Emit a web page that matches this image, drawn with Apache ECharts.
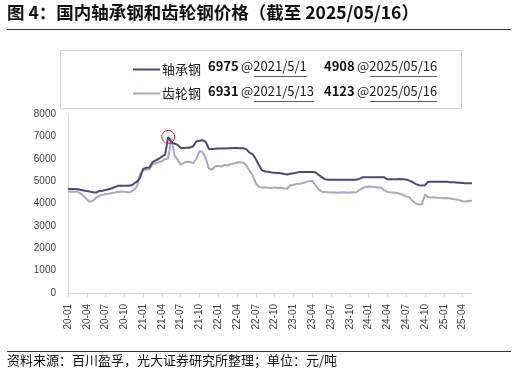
<!DOCTYPE html>
<html>
<head>
<meta charset="utf-8">
<script src="https://cdn.jsdelivr.net/npm/echarts@6/dist/echarts.min.js"></script>
<style>
html,body{margin:0;padding:0;background:#fff;}
#c{width:516px;height:372px;}
</style>
</head>
<body>
<div id="c"></div>
<script>
// semi-monthly dates from 2020-01-01 to 2025-05-16
const startYear = 2020, endYear = 2025, endMonth = 5;
const categories = [];
for (let y = startYear; y <= endYear; y++) {
  for (let m = 1; m <= 12; m++) {
    if (y === endYear && m > endMonth) break;
    const mm = (m < 10 ? '0' : '') + m;
    categories.push(y + '-' + mm + '-01');
    categories.push(y + '-' + mm + '-16');
  }
}
const tickMonths = ['01', '04', '07', '10'];

const seriesNames = ['轴承钢', '齿轮钢'];

const bearingSteel = [
  4650,4650,4650,4640,4610,4580,4560,4530,4500,4490,
  4560,4570,4600,4640,4680,4740,4790,4790,4790,4790,
  4800,4880,4980,5150,5550,5600,5610,5850,5930,6000,
  6100,6180,6975,6720,6680,6620,6480,6480,6490,6500,
  6560,6780,6800,6830,6750,6440,6440,6450,6460,6460,
  6460,6470,6470,6480,6480,6470,6470,6420,6270,6200,
  5980,5700,5480,5430,5420,5380,5370,5360,5350,5320,
  5300,5330,5350,5380,5410,5410,5410,5410,5410,5400,
  5280,5180,5090,5060,5060,5060,5060,5060,5060,5060,
  5060,5060,5060,5100,5170,5170,5170,5170,5170,5170,
  5170,5170,5080,5080,5080,5080,5090,5080,5070,5020,
  4960,4880,4820,4800,4820,4970,4970,4970,4970,4970,
  4970,4970,4950,4950,4940,4930,4920,4910,4910,4908
];

const gearSteel = [
  4530,4540,4530,4520,4460,4330,4190,4070,4130,4260,
  4340,4390,4420,4440,4470,4490,4520,4540,4530,4500,
  4520,4600,4760,5300,5500,5520,5530,5760,5800,5860,
  5890,5980,6020,6931,6150,5950,5730,5820,5870,5860,
  5800,6000,6350,6300,6000,5560,5520,5650,5690,5650,
  5720,5700,5760,5790,5830,5840,5820,5700,5450,5250,
  4900,4740,4720,4710,4700,4690,4720,4690,4710,4680,
  4660,4820,4840,4870,4880,4920,4960,5000,5020,4820,
  4650,4520,4510,4500,4490,4500,4480,4490,4500,4480,
  4490,4500,4490,4600,4680,4740,4760,4750,4740,4720,
  4700,4600,4520,4500,4490,4470,4440,4380,4320,4280,
  4120,4000,3970,3960,4400,4280,4270,4280,4260,4250,
  4240,4250,4220,4200,4180,4150,4100,4090,4110,4123
];

const bearingPeak = { value: 6975, date: '2021/5/1', idx: 32 };
const gearPeak = { value: 6931, date: '2021/5/13' };
const bearingLast = { value: 4908, date: '2025/05/16' };
const gearLast = { value: 4123, date: '2025/05/16' };

const DARK = '#4b4a76';
const LIGHT = '#a9a8c6';
const FONT = '"Noto Sans CJK SC", "Noto Sans", sans-serif';
const NUMFONT = '"Liberation Sans", "Noto Sans", sans-serif';

function isTick(i, v) {
  return v.slice(8) === '01' && tickMonths.indexOf(v.slice(5, 7)) >= 0;
}

function annot(x, y, num, date, underlineW) {
  return [
    { type: 'text', left: x, top: y, style: { text: String(num), font: 'bold 13px ' + FONT, fill: '#111' } },
    { type: 'text', left: x + 33, top: y, style: { text: '@' + date, font: '13px ' + FONT, fill: '#222' } },
    { type: 'line', shape: { x1: x + 46, y1: y + 16.5, x2: x + 46 + underlineW, y2: y + 16.5 }, style: { stroke: '#333', lineWidth: 0.8 } }
  ];
}

const chart = echarts.init(document.getElementById('c'), null, { renderer: 'canvas' });
const graphics = [
  { type: 'text', left: 7, top: 4, style: { text: '图 4：国内轴承钢和齿轮钢价格（截至 2025/05/16）', font: 'bold 17.5px ' + FONT, fill: '#111' } },
  { type: 'line', shape: { x1: 7, y1: 29.5, x2: 511, y2: 29.5 }, style: { stroke: '#333', lineWidth: 1 } },
  { type: 'rect', shape: { x: 60.5, y: 50.5, width: 401, height: 58 }, style: { fill: 'none', stroke: '#d4d4d4', lineWidth: 1 } },
  { type: 'line', shape: { x1: 7, y1: 351.5, x2: 511, y2: 351.5 }, style: { stroke: '#333', lineWidth: 1 } },
  { type: 'text', left: 7, top: 354, style: { text: '资料来源：百川盈孚，光大证券研究所整理；单位：元/吨', font: '13px ' + FONT, fill: '#111' } }
];
graphics.push(...annot(208, 60, bearingPeak.value, bearingPeak.date, 53));
graphics.push(...annot(324, 60, bearingLast.value, bearingLast.date, 67));
graphics.push(...annot(208, 85, gearPeak.value, gearPeak.date, 60));
graphics.push(...annot(324, 85, gearLast.value, gearLast.date, 67));

chart.setOption({
  animation: false,
  backgroundColor: '#fff',
  textStyle: { fontFamily: FONT },
  graphic: graphics,
  legend: {
    orient: 'vertical',
    left: 128,
    top: 56,
    itemWidth: 27,
    itemHeight: 2,
    itemGap: 7,
    icon: 'rect',
    textStyle: { fontSize: 13, color: '#222', fontFamily: FONT, lineHeight: 17, padding: [0, 0, 0, -3] },
    data: seriesNames
  },
  grid: { left: 68, right: 44, top: 114, bottom: 79, containLabel: false },
  xAxis: {
    type: 'category',
    data: categories,
    boundaryGap: false,
    axisLine: { lineStyle: { color: '#d9d9d9', width: 1 } },
    axisTick: { show: true, interval: isTick, length: 4, lineStyle: { color: '#d9d9d9' } },
    axisLabel: {
      interval: isTick,
      rotate: 90,
      margin: 11,
      fontSize: 10,
      color: '#404040',
      fontFamily: NUMFONT,
      formatter: v => v.slice(2, 7)
    },
    splitLine: { show: false }
  },
  yAxis: {
    type: 'value',
    min: 0,
    max: 8000,
    interval: 1000,
    axisLine: { show: true, lineStyle: { color: '#d9d9d9' } },
    axisTick: { show: false },
    axisLabel: { fontSize: 10, color: '#404040', margin: 12, fontFamily: NUMFONT, formatter: v => String(v) },
    splitLine: { show: false }
  },
  series: [
    {
      name: seriesNames[0],
      type: 'line',
      data: bearingSteel,
      symbol: 'none',
      z: 3,
      lineStyle: { color: DARK, width: 2 },
      itemStyle: { color: DARK },
      markPoint: {
        symbol: 'circle',
        symbolSize: 13,
        silent: true,
        label: { show: false },
        itemStyle: { color: 'rgba(0,0,0,0)', borderColor: '#e8231f', borderWidth: 1 },
        data: [{ coord: [bearingPeak.idx, bearingPeak.value] }]
      }
    },
    {
      name: seriesNames[1],
      type: 'line',
      data: gearSteel,
      symbol: 'none',
      z: 2,
      lineStyle: { color: LIGHT, width: 2 },
      itemStyle: { color: LIGHT }
    }
  ]
});
</script>
</body>
</html>
